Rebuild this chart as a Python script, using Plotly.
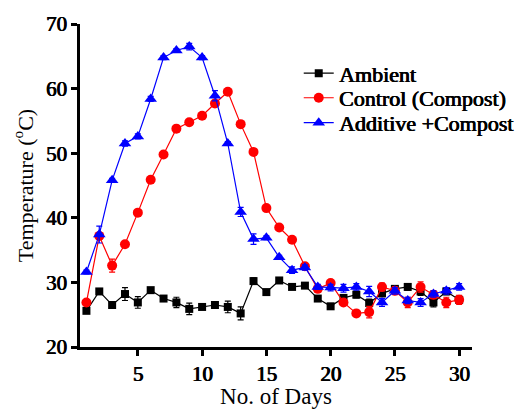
import plotly.graph_objects as go

days = list(range(1, 31))
ambient = [25.6, 28.6, 26.5, 28.2, 26.9, 28.8, 27.5, 26.9, 25.9, 26.2, 26.5, 26.2, 25.2, 30.2, 28.5,
           30.3, 29.3, 29.5, 27.5, 26.3, 27.6, 28.1, 26.8, 28.3, 29.0, 29.3, 28.6, 26.9, 28.6, 27.3]
ambient_err = [0.4, 0.4, 0.3, 1.0, 0.9, 0.3, 0.4, 0.8, 0.9, 0.3, 0.3, 0.9, 1.0, 0.5, 0.3,
               0.3, 0.3, 0.4, 0.4, 0.4, 0.4, 0.5, 0.6, 0.5, 0.5, 0.5, 0.6, 0.7, 0.5, 0.5]
control = [26.9, 37.2, 32.6, 35.9, 40.8, 45.9, 49.8, 53.8, 54.8, 55.8, 57.7, 59.5, 54.5, 50.2, 41.5,
           38.5, 36.6, 32.5, 29.0, 29.9, 26.9, 25.2, 25.4, 29.3, 28.7, 26.9, 29.3, 28.1, 26.9, 27.3]
control_err = [0.3, 0.5, 1.0, 0.3, 0.3, 0.3, 0.3, 0.3, 0.3, 0.3, 0.3, 0.3, 0.3, 0.3, 0.3,
               0.3, 0.3, 0.4, 0.5, 0.4, 0.4, 0.4, 0.9, 0.6, 0.6, 0.8, 0.8, 0.6, 0.8, 0.7]
additive = [31.6, 37.4, 45.8, 51.5, 52.6, 58.4, 64.8, 65.9, 66.5, 64.8, 58.9, 51.5, 40.9, 36.7, 36.9,
            33.9, 31.9, 32.3, 29.3, 29.2, 29.1, 29.3, 28.6, 26.9, 28.7, 27.2, 26.9, 28.2, 28.7, 29.3]
additive_err = [0.3, 1.3, 0.3, 0.4, 0.4, 0.4, 0.3, 0.3, 0.5, 0.3, 0.8, 0.3, 0.7, 0.8, 0.3,
                0.3, 0.5, 0.4, 0.4, 0.5, 0.6, 0.5, 0.8, 0.6, 0.5, 0.5, 0.6, 0.5, 0.5, 0.5]

x_ticks = [5, 10, 15, 20, 25, 30]
y_ticks = [20, 30, 40, 50, 60, 70]

series = [
    ("Ambient", ambient, ambient_err, "black", "square", 8, "legend"),
    ("Control (Compost)", control, control_err, "#ff0000", "circle", 10, "legend2"),
    ("Additive +Compost", additive, additive_err, "#0000ff", "triangle-up", 11, "legend3"),
]

fig = go.Figure()
for name, vals, err, col, sym, size, lg in series:
    fig.add_trace(go.Scatter(
        x=days, y=vals, name=name, mode="lines+markers", legend=lg,
        line=dict(color=col, width=1.2),
        marker=dict(color=col, symbol=sym, size=size),
        error_y=dict(type="data", array=err, visible=True, color=col, thickness=1.2, width=3),
    ))

ff = "Liberation Serif"
bold_shadow = "0.8px 0px 0px black, 0.4px 0px 0px black"
legend_font = dict(family=ff, size=22, color="black", shadow=bold_shadow)


def make_legend(ypos):
    return dict(x=0.558, y=ypos, xanchor="left", yanchor="middle",
                font=legend_font, bgcolor="rgba(0,0,0,0)", itemwidth=30)


fig.update_layout(
    width=532, height=409,
    margin=dict(l=80, r=60, t=20, b=62),
    paper_bgcolor="white", plot_bgcolor="white",
    font=dict(family=ff, color="black"),
    showlegend=True,
    legend=make_legend(0.847),
    legend2=make_legend(0.771),
    legend3=make_legend(0.694),
    xaxis=dict(
        range=[0.5, 31], tickvals=x_ticks, automargin=False,
        showgrid=False, zeroline=False,
        showline=True, linecolor="black", linewidth=3,
        ticks="outside", ticklen=6, tickwidth=3, tickcolor="black",
        tickfont=dict(family=ff, size=21, color="black", shadow=bold_shadow),
        title=dict(text="No. of Days", font=dict(family=ff, size=23, color="black")),
    ),
    yaxis=dict(
        range=[20, 70], tickvals=y_ticks, automargin=True,
        showgrid=False, zeroline=False,
        showline=True, linecolor="black", linewidth=3,
        ticks="outside", ticklen=6, tickwidth=3, tickcolor="black",
        tickfont=dict(family=ff, size=21, color="black", shadow=bold_shadow),
        title=dict(text="Temperature (<sup>o</sup>C)", font=dict(family=ff, size=22, color="black"), standoff=7),
    ),
)

fig.write_html("out.html")
